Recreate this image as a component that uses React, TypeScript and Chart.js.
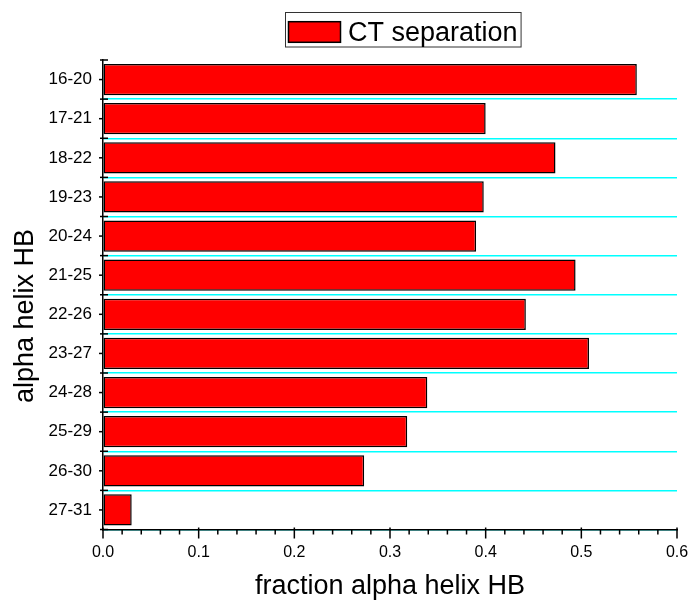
import { useEffect, useRef } from "react";
import { Chart, registerables } from "chart.js";

Chart.register(...registerables);

const categories = ["16-20", "17-21", "18-22", "19-23", "20-24", "21-25", "22-26", "23-27", "24-28", "25-29", "26-30", "27-31"];
const ctSeparation = [0.558, 0.400, 0.473, 0.398, 0.390, 0.494, 0.442, 0.508, 0.339, 0.318, 0.273, 0.030];
const seriesLabel = "CT separation";
const xMin = 0;
const xMax = 0.6;
const xMajorStep = 0.1;
const xMinorStep = 0.02;
const xTitle = "fraction alpha helix HB";
const yTitle = "alpha helix HB";

const FONT = "'Liberation Sans', Arial, Helvetica, sans-serif";

const decorPlugin = {
  id: "decor",
  afterDraw(chart: any) {
    const { ctx, chartArea } = chart;
    const x = chart.scales.x;
    const y = chart.scales.y;
    ctx.save();
    ctx.strokeStyle = "#000";
    ctx.lineWidth = 1.5;

    // x-axis major and minor ticks
    const n = Math.round((x.max - x.min) / xMinorStep);
    const perMajor = Math.round(xMajorStep / xMinorStep);
    for (let i = 0; i <= n; i++) {
      const px = x.getPixelForValue(x.min + i * xMinorStep);
      const major = i % perMajor === 0;
      ctx.beginPath();
      ctx.moveTo(px, chartArea.bottom - (major ? 2 : 0));
      ctx.lineTo(px, chartArea.bottom + (major ? 9 : 5));
      ctx.stroke();
    }

    // y-axis ticks: boundaries (major) and category centers (minor)
    const count = y.ticks.length;
    for (let i = 0; i <= count; i++) {
      const py = y.getPixelForValue(i - 0.5);
      ctx.beginPath();
      ctx.moveTo(chartArea.left - 3, py);
      ctx.lineTo(chartArea.left + 5, py);
      ctx.stroke();
      if (i < count) {
        const pc = y.getPixelForValue(i);
        ctx.beginPath();
        ctx.moveTo(chartArea.left - 4, pc);
        ctx.lineTo(chartArea.left, pc);
        ctx.stroke();
      }
    }

    // y-axis title
    ctx.save();
    ctx.translate(33, 316);
    ctx.rotate(-Math.PI / 2);
    ctx.fillStyle = "#000";
    ctx.font = `27px ${FONT}`;
    ctx.textAlign = "center";
    ctx.textBaseline = "alphabetic";
    ctx.fillText(yTitle, 0, 0);
    ctx.restore();

    // legend box
    const ds = chart.data.datasets[0];
    ctx.font = `27px ${FONT}`;
    const tw = ctx.measureText(ds.label).width;
    const bx = 285;
    const by = 12.5;
    const sw = 52;
    const bw = 3 + sw + 8 + tw + 3;
    const bh = 34.5;
    ctx.lineWidth = 1;
    ctx.strokeStyle = "#333";
    ctx.strokeRect(bx + 0.5, by, bw, bh);
    ctx.fillStyle = ds.backgroundColor;
    ctx.fillRect(bx + 3.5, 21.7, sw, 20.6);
    ctx.lineWidth = 1.5;
    ctx.strokeStyle = "#000";
    ctx.strokeRect(bx + 3.5, 21.7, sw, 20.6);
    ctx.fillStyle = "#000";
    ctx.textAlign = "left";
    ctx.textBaseline = "alphabetic";
    ctx.fillText(ds.label, bx + 3 + sw + 8, 40.7);

    ctx.restore();
  },
};

export default function App() {
  const canvasRef = useRef<HTMLCanvasElement | null>(null);

  useEffect(() => {
    if (!canvasRef.current) return;
    const chart = new Chart(canvasRef.current, {
      type: "bar",
      data: {
        labels: categories,
        datasets: [
          {
            label: seriesLabel,
            data: ctSeparation,
            backgroundColor: "#ff0000",
            borderColor: "#000000",
            borderWidth: 1.5,
            borderSkipped: false,
            barPercentage: 0.8,
            categoryPercentage: 1,
          },
        ],
      },
      options: {
        indexAxis: "y",
        responsive: false,
        animation: false,
        layout: { padding: { top: 60, right: 13, left: 0, bottom: 0 } },
        plugins: {
          legend: { display: false },
          tooltip: { enabled: false },
        },
        scales: {
          x: {
            type: "linear",
            position: "bottom",
            min: xMin,
            max: xMax,
            ticks: {
              stepSize: xMajorStep,
              color: "#000",
              font: { family: FONT, size: 16 },
              padding: 0,
              callback: (v: any) => Number(v).toFixed(1),
            },
            grid: {
              drawOnChartArea: false,
              drawTicks: true,
              tickLength: 13,
              tickColor: "rgba(0,0,0,0)",
            },
            border: { color: "#000", width: 1.5 },
            title: {
              display: true,
              text: xTitle,
              color: "#000",
              font: { family: FONT, size: 27, lineHeight: 1 },
              padding: { top: 0, bottom: 1 },
            },
            afterFit: (s: any) => {
              s.height = 71.5;
            },
          },
          y: {
            type: "category",
            offset: true,
            ticks: {
              color: "#000",
              font: { family: FONT, size: 17 },
              padding: 11,
            },
            grid: {
              offset: true,
              drawTicks: false,
              lineWidth: 1.5,
              color: (c: any) => (c.index === 0 ? "rgba(0,0,0,0)" : "#00ffff"),
            },
            border: { color: "#000", width: 1.5 },
            afterFit: (s: any) => {
              s.width = 103;
            },
          },
        },
      },
      plugins: [decorPlugin],
    } as any);
    return () => chart.destroy();
  }, []);

  return (
    <div style={{ position: "absolute", left: 0, top: 0, width: 690, height: 601, background: "#fff" }}>
      <canvas ref={canvasRef} width={690} height={601} />
    </div>
  );
}
